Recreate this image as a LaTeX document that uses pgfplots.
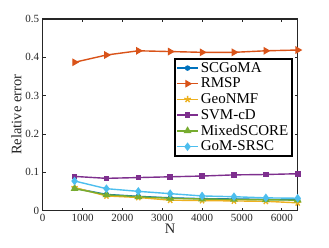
\documentclass[border=0pt]{standalone}
\usepackage{pgfplots}
\pgfplotsset{compat=1.18}
\usepackage{fontspec}
\setmainfont{Liberation Serif}
\definecolor{c1}{rgb}{0,0.447,0.741}
\definecolor{c2}{rgb}{0.85,0.325,0.098}
\definecolor{c3}{rgb}{0.929,0.694,0.125}
\definecolor{c4}{rgb}{0.494,0.184,0.556}
\definecolor{c5}{rgb}{0.466,0.674,0.188}
\definecolor{c6}{rgb}{0.301,0.745,0.933}
\definecolor{axc}{rgb}{0.15,0.15,0.15}
\begin{document}
\begin{tikzpicture}
\begin{axis}[
  at={(0,0)}, anchor=south west,
  scale only axis, width=255pt, height=191.5pt,
  xmin=0, xmax=6400, ymin=0, ymax=0.5,
  xtick={0,1000,2000,3000,4000,5000,6000},
  ytick={0,0.1,0.2,0.3,0.4,0.5},
  yticklabels={0,0.1,0.2,0.3,0.4,0.5},
  /pgf/number format/1000 sep={},
  /pgf/number format/assume math mode=true,
  tick align=inside, tick pos=both,
  major tick length=3pt,
  axis line style={axc, line width=1.5pt},
  every tick/.style={axc, line width=0.8pt},
  tick label style={font=\fontsize{11}{12}\selectfont, text=axc},
  label style={font=\fontsize{14.5}{16}\selectfont, text=axc},
  xlabel={N}, ylabel={Relative error},
  xlabel style={yshift=4pt},
  ylabel style={yshift=-3pt},
  legend style={at={(0.515,0.796)}, anchor=north west, draw=black, line width=1.6pt,
    font=\fontsize{15}{16}\selectfont, inner sep=1.5pt, row sep=0.2pt,
    /tikz/every even column/.append style={column sep=0pt}},
  legend cell align=left,
  legend image code/.code={
    \draw[mark repeat=2,mark phase=2] plot coordinates {(0cm,0cm) (0.37cm,0cm) (0.74cm,0cm)};},
  every axis plot/.append style={line width=1.4pt},
]
\addplot[c1, mark=*, mark size=2pt] coordinates {(800,0.058)(1600,0.042)(2400,0.037)(3200,0.033)(4000,0.031)(4800,0.030)(5600,0.029)(6400,0.028)};
\addplot[c2, mark=triangle*, mark size=3.2pt, mark options={rotate=-90}] coordinates {(800,0.387)(1600,0.406)(2400,0.417)(3200,0.415)(4000,0.413)(4800,0.413)(5600,0.417)(6400,0.419)};
\addplot[c3, mark=star, mark size=3.4pt] coordinates {(800,0.060)(1600,0.038)(2400,0.034)(3200,0.027)(4000,0.026)(4800,0.025)(5600,0.024)(6400,0.020)};
\addplot[c4, mark=square*, mark size=2.1pt] coordinates {(800,0.089)(1600,0.084)(2400,0.086)(3200,0.088)(4000,0.090)(4800,0.093)(5600,0.094)(6400,0.096)};
\addplot[c5, mark=triangle*, mark size=3.2pt] coordinates {(800,0.057)(1600,0.041)(2400,0.036)(3200,0.032)(4000,0.030)(4800,0.029)(5600,0.028)(6400,0.027)};
\addplot[c6, mark=diamond*, mark size=3.2pt] coordinates {(800,0.077)(1600,0.057)(2400,0.050)(3200,0.044)(4000,0.038)(4800,0.036)(5600,0.033)(6400,0.032)};
\legend{SCGoMA,RMSP,GeoNMF,SVM-cD,MixedSCORE,GoM-SRSC}
\end{axis}
\pgfresetboundingbox
\path[use as bounding box] (-42.7pt,-36.5pt) rectangle (286.3pt,210.5pt);
\end{tikzpicture}
\end{document}
